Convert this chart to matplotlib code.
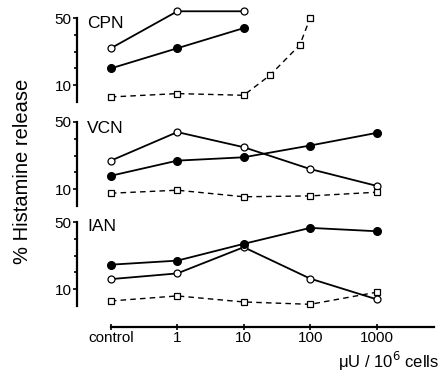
import matplotlib.pyplot as plt

plt.rcParams['font.family'] = ['Liberation Sans', 'DejaVu Sans']

# dose levels (control drawn one decade below 1 on the log axis)
doses = [0.1, 1, 10, 100, 1000]
dose_labels = ['control', '1', '10', '100', '1000']

# CPN panel
cpn_open = [32, 54, 54]
cpn_filled = [20, 32, 44]
cpn_sq_doses = [0.1, 1, 10, 25, 70, 100]
cpn_square = [3, 5, 4, 16, 34, 50]

# VCN panel
vcn_open = [27, 44, 35, 22, 12]
vcn_filled = [18, 27, 29, 36, 43.5]
vcn_square = [7.6, 9.4, 5.5, 6, 8.2]

# IAN panel
ian_open = [16, 19.4, 35, 16.3, 4]
ian_filled = [24.6, 27, 37, 46.5, 44.5]
ian_square = [3, 6, 2.4, 1, 8.2]

W, H = 444, 371
fig = plt.figure(figsize=(W / 100, H / 100), dpi=100)

left = 77 / W
width = (443 - 77) / W
panel_tops = [18, 122, 222]
panel_h = 84


def make_panel(top_px, name, name_y):
    ax = fig.add_axes([left, 1 - (top_px + panel_h) / H, width, panel_h / H])
    ax.set_xscale('log')
    ax.set_xlim(10 ** -1.51, 10 ** 4.0)
    ax.set_ylim(0, 50)
    for s in ['top', 'right', 'bottom']:
        ax.spines[s].set_visible(False)
    ax.spines['left'].set_linewidth(1.6)
    ax.set_xticks([])
    ax.minorticks_off()
    ax.set_yticks([10, 50])
    ax.set_yticklabels(['10', '50'])
    ax.set_yticks([20, 30, 40], minor=True)
    ax.tick_params(axis='y', which='major', direction='out', length=3, width=1.2,
                   labelsize=11, pad=1)
    ax.tick_params(axis='y', which='minor', direction='out', length=2.5, width=1.2)
    ax.text(0.027, name_y, name, transform=ax.transAxes, fontsize=12.5,
            ha='left', va='center')
    ax.patch.set_visible(False)
    return ax


def open_line(ax, x, y):
    ax.plot(x, y, '-', color='black', lw=1.3, marker='o', ms=5,
            mfc='white', mec='black', mew=0.9, clip_on=False, zorder=3)


def filled_line(ax, x, y):
    ax.plot(x, y, '-', color='black', lw=1.3, marker='o', ms=5.5,
            mfc='black', mec='black', clip_on=False, zorder=3)


def square_line(ax, x, y):
    ax.plot(x, y, '--', color='black', lw=1.0, dashes=(4, 3), marker='s', ms=3.8,
            mfc='white', mec='black', mew=0.9, clip_on=False, zorder=3)


ax1 = make_panel(panel_tops[0], 'CPN', 0.94)
open_line(ax1, doses[:3], cpn_open)
filled_line(ax1, doses[:3], cpn_filled)
square_line(ax1, cpn_sq_doses, cpn_square)

ax2 = make_panel(panel_tops[1], 'VCN', 0.92)
open_line(ax2, doses, vcn_open)
filled_line(ax2, doses, vcn_filled)
square_line(ax2, doses, vcn_square)

ax3 = make_panel(panel_tops[2], 'IAN', 0.95)
open_line(ax3, doses, ian_open)
filled_line(ax3, doses, ian_filled)
square_line(ax3, doses, ian_square)

# shared dose axis below the bottom panel
ax3.spines['bottom'].set_visible(True)
ax3.spines['bottom'].set_position(('outward', 15))
ax3.spines['bottom'].set_bounds(0.1, 7400)
ax3.spines['bottom'].set_linewidth(1.6)
ax3.set_xticks(doses)
ax3.set_xticklabels(dose_labels)
ax3.tick_params(axis='x', which='major', direction='inout', length=4, width=1.2,
                labelsize=11, pad=1)
ax3.tick_params(axis='x', which='minor', bottom=False)

fig.text(439 / W, 1 - 361 / H, r'μU / 10$^6$ cells', ha='right', va='center',
         fontsize=12)
fig.text(22 / W, 1 - 171 / H, '% Histamine release', rotation=90,
         ha='center', va='center', fontsize=14.5)

fig.savefig('out.png', dpi=100)
